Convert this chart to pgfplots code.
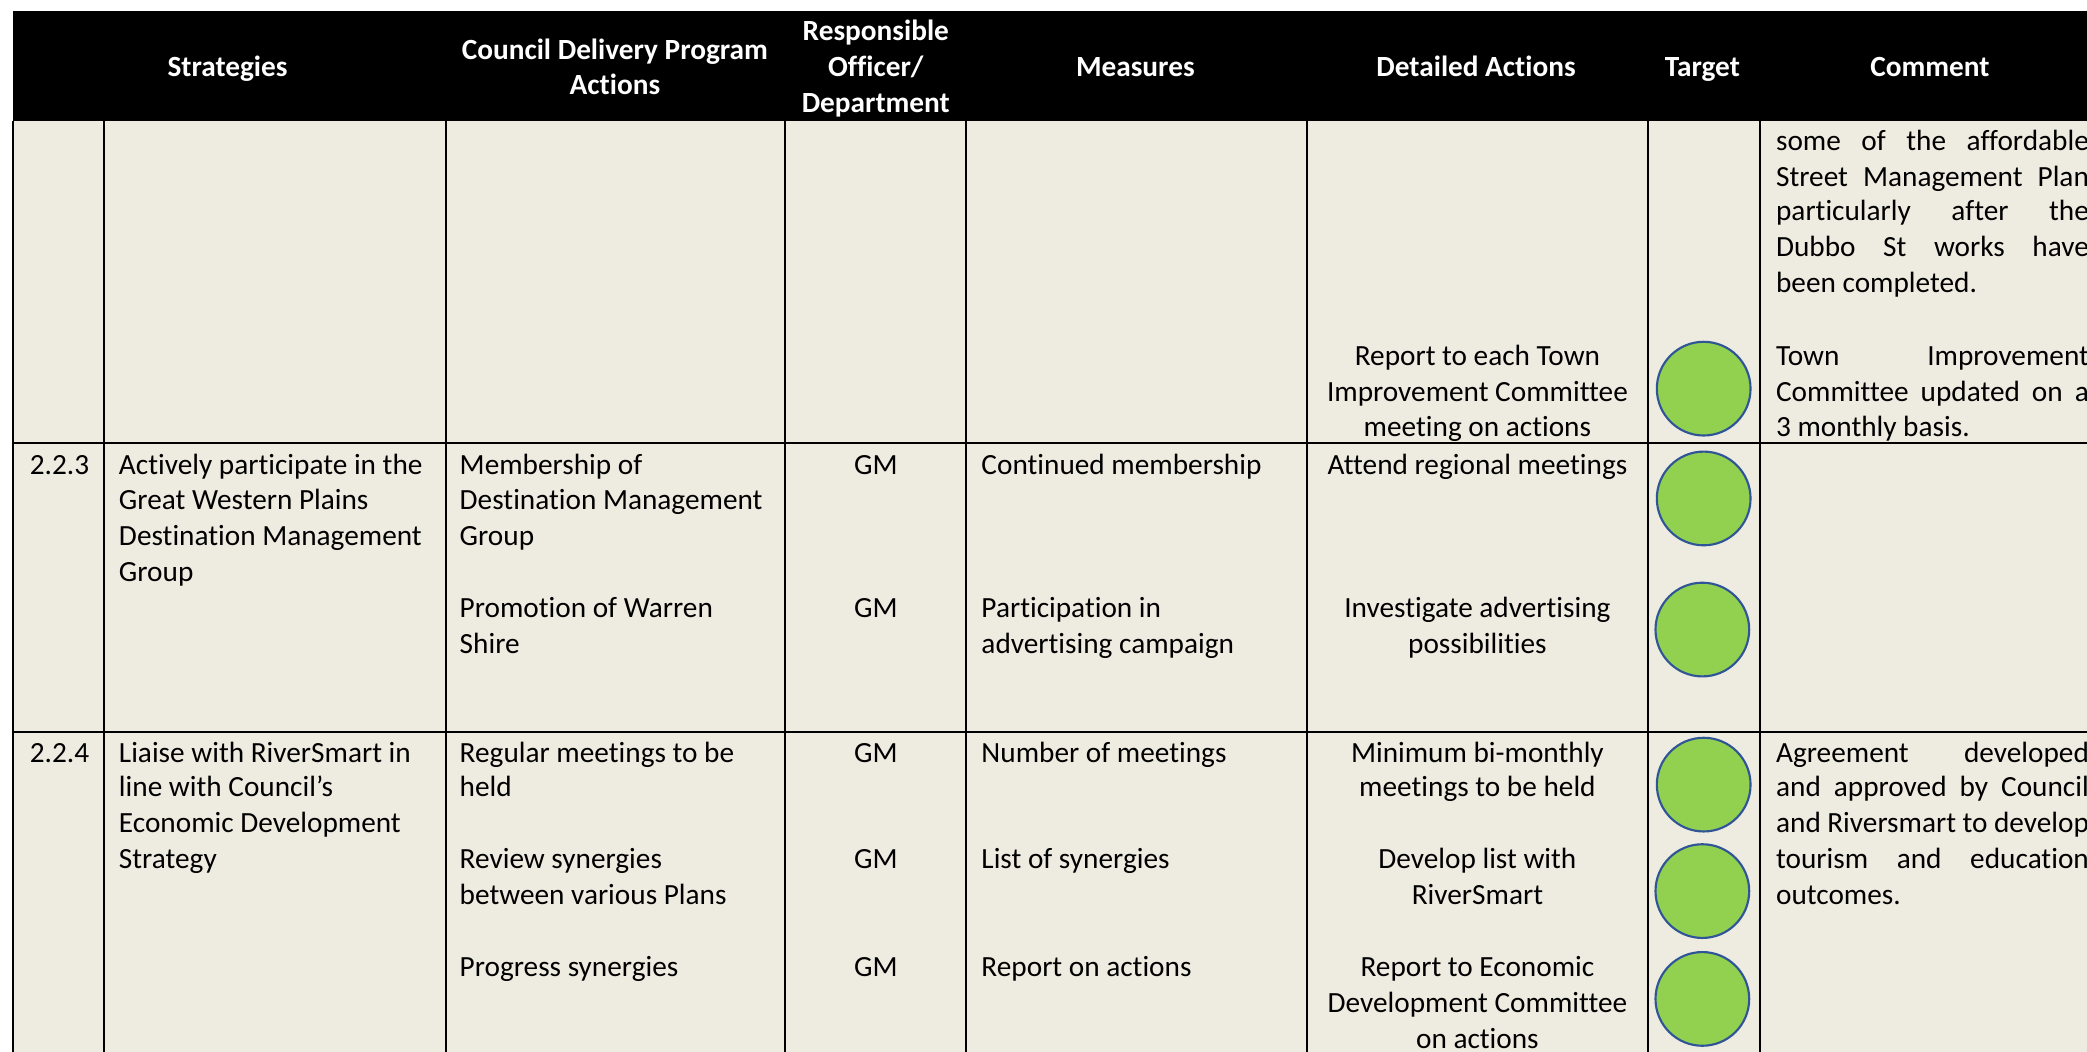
\documentclass[border=0pt]{standalone}
\usepackage{fontspec}
\setmainfont[Ligatures={NoCommon}]{Carlito}
\usepackage{pgfplots}
\pgfplotsset{compat=1.18}
\definecolor{beige}{HTML}{EEECE1}
\definecolor{tgreen}{HTML}{92D050}
\definecolor{tblue}{HTML}{2F5597}
\tikzset{
  tx/.style={font=\fontsize{11pt}{13.5pt}\selectfont, inner sep=0pt, text=black, yshift=-1.5pt},
  hd/.style={font=\fontsize{11pt}{13.5pt}\selectfont\bfseries, inner sep=0pt, text=white, anchor=mid, yshift=-1.5pt},
  L/.style={tx, anchor=mid west},
  C/.style={tx, anchor=mid},
  gl/.style={line width=0.8pt, black},
}
\begin{document}
\begin{tikzpicture}
\begin{axis}[at={(0,0)},anchor=south west,
  width=784pt,height=395pt,scale only axis,
  xmin=0,xmax=1568,ymin=0,ymax=790,y dir=reverse,
  hide axis, clip=true,
]
\fill[white] (-5,-5) rectangle (1600,800);
\fill[beige] (10,91) rectangle (1600,800);
\fill[black] (10,8) rectangle (1600,91);
% grid lines
\draw[gl] (10,91) -- (10,800);
\draw[gl] (78,91) -- (78,800);
\draw[gl] (335,91) -- (335,800);
\draw[gl] (590,91) -- (590,800);
\draw[gl] (726,91) -- (726,800);
\draw[gl] (982,91) -- (982,800);
\draw[gl] (1238,91) -- (1238,800);
\draw[gl] (1322,91) -- (1322,800);
\draw[gl] (10,333) -- (1600,333);
\draw[gl] (10,550) -- (1600,550);
% header
\node[hd] at (171,50) {Strategies};
\node[hd] at (462,37) {Council Delivery Program};
\node[hd] at (462,63) {Actions};
\node[hd] at (658,23) {Responsible};
\node[hd] at (658,50) {Officer/};
\node[hd] at (658,77) {Department};
\node[hd] at (853,50) {Measures};
\node[hd] at (1109,50) {Detailed Actions};
\node[hd] at (1279,50) {Target};
\node[hd] at (1450,50) {Comment};
% row 0 (continued)
\node[L] at (1334,105) {\makebox[117.5pt][s]{some of the affordable}};
\node[L] at (1334,132) {\makebox[117.5pt][s]{Street Management Plan}};
\node[L] at (1334,158) {\makebox[117.5pt][s]{particularly after the}};
\node[L] at (1334,185) {\makebox[117.5pt][s]{Dubbo St works have}};
\node[L] at (1334,212) {been completed.};
\node[L] at (1334,267) {\makebox[117.5pt][s]{Town Improvement}};
\node[L] at (1334,294) {\makebox[117.5pt][s]{Committee updated on a}};
\node[L] at (1334,320) {3 monthly basis.};
\node[C] at (1110,267) {Report to each Town};
\node[C] at (1110,294) {Improvement Committee};
\node[C] at (1110,320) {meeting on actions};
% row 2.2.3
\node[L] at (22,349) {2.2.3};
\node[L] at (89,349) {Actively participate in the};
\node[L] at (89,375) {Great Western Plains};
\node[L] at (89,402) {Destination Management};
\node[L] at (89,429) {Group};
\node[L] at (345,349) {Membership of};
\node[L] at (345,375) {Destination Management};
\node[L] at (345,402) {Group};
\node[C] at (658,349) {GM};
\node[L] at (737,349) {Continued membership};
\node[C] at (1110,349) {Attend regional meetings};
\node[L] at (345,456) {Promotion of Warren};
\node[L] at (345,483) {Shire};
\node[C] at (658,456) {GM};
\node[L] at (737,456) {Participation in};
\node[L] at (737,483) {advertising campaign};
\node[C] at (1110,456) {Investigate advertising};
\node[C] at (1110,483) {possibilities};
% row 2.2.4
\node[L] at (22,565) {2.2.4};
\node[L] at (89,565) {Liaise with RiverSmart in};
\node[L] at (89,591) {line with Council’s};
\node[L] at (89,618) {Economic Development};
\node[L] at (89,645) {Strategy};
\node[L] at (345,565) {Regular meetings to be};
\node[L] at (345,591) {held};
\node[L] at (345,645) {Review synergies};
\node[L] at (345,672) {between various Plans};
\node[L] at (345,726) {Progress synergies};
\node[C] at (658,565) {GM};
\node[C] at (658,645) {GM};
\node[C] at (658,726) {GM};
\node[L] at (737,565) {Number of meetings};
\node[L] at (737,645) {List of synergies};
\node[L] at (737,726) {Report on actions};
\node[C] at (1110,565) {Minimum bi-monthly};
\node[C] at (1110,591) {meetings to be held};
\node[C] at (1110,645) {Develop list with};
\node[C] at (1110,672) {RiverSmart};
\node[C] at (1110,726) {Report to Economic};
\node[C] at (1110,753) {Development Committee};
\node[C] at (1110,780) {on actions};
\node[L] at (1334,565) {\makebox[117.5pt][s]{Agreement developed}};
\node[L] at (1334,591) {\makebox[117.5pt][s]{and approved by Council}};
\node[L] at (1334,618) {\makebox[117.5pt][s]{and Riversmart to develop}};
\node[L] at (1334,645) {\makebox[117.5pt][s]{tourism and education}};
\node[L] at (1334,672) {outcomes.};
% target circles
\addplot[only marks, mark=*, mark size=17.6pt,
  mark options={fill=tgreen, draw=tblue, line width=0.8pt}]
  coordinates {(1280,292) (1280,374.5) (1279,473) (1280,589.5) (1279,669.5) (1279,750.5)};
\end{axis}
\pgfresetboundingbox
\path[use as bounding box] (0,0) rectangle (784pt,395pt);
\end{tikzpicture}
\end{document}
